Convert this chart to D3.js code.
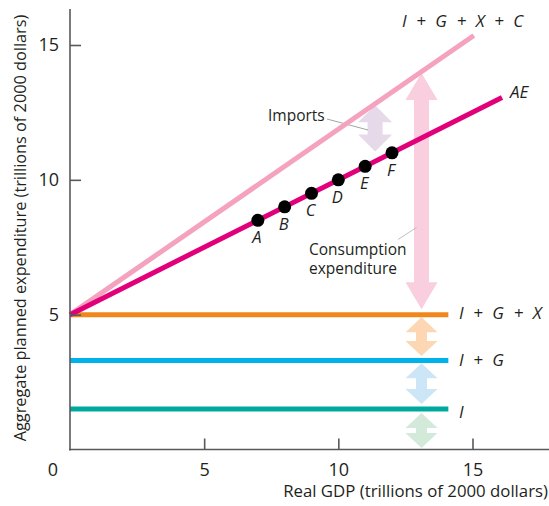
<!DOCTYPE html>
<html><head><meta charset="utf-8">
<script src="https://cdn.jsdelivr.net/npm/d3@7"></script>
<style>body{margin:0;background:#fff}svg{display:block}text{font-family:"Open Sans",sans-serif;fill:#231f20}</style>
</head><body><svg id="c" width="549" height="506"></svg>
<script>
// ---- data ----
const xTicks = [5, 10, 15];
const yTicks = [5, 10, 15];
const flatNames = ["I", "I + G", "I + G + X"];
const flatValues = [1.5, 3.3, 5];
const flatEnd = 14.1;
const aeX = [0, 16.1];
const aeY = [5, 13.05];
const totalX = [0, 15.05];
const totalY = [5, 15.35];
const pointLabels = ["A", "B", "C", "D", "E", "F"];
const pointX = [7, 8, 9, 10, 11, 12];
const pointY = [8.5, 9, 9.5, 10, 10.5, 11];
const arrowNames = ["Consumption", "Imports", "Exports", "Government", "Investment"];
const arrowX = [13.1, 11.37, 13.1, 13.1, 13.1];
const arrowFrom = [5.2, 11.05, 4.9, 3.2, 1.35];
const arrowTo = [13.96, 12.77, 3.47, 1.69, 0.06];

// ---- scales ----
const svg = d3.select("#c");
const x = d3.scaleLinear().domain([0, 15]).range([70, 472.5]);
const y = d3.scaleLinear().domain([0, 15]).range([449.5, 45]);
const axisColor = "#58595b";

// double-headed arrows (behind lines)
const arrowColors = ["#f9cede", "#e6d9ea", "#fdd7b3", "#cde6f7", "#d3eadb"];
function arrowPath(cx, y1, y2, shaftW, headW, headL) {
  const top = Math.min(y1, y2), bot = Math.max(y1, y2);
  const s = shaftW / 2, h = headW / 2;
  const p = d3.path();
  p.moveTo(cx, top);
  p.lineTo(cx + h, top + headL);
  p.lineTo(cx + s, top + headL);
  p.lineTo(cx + s, bot - headL);
  p.lineTo(cx + h, bot - headL);
  p.lineTo(cx, bot);
  p.lineTo(cx - h, bot - headL);
  p.lineTo(cx - s, bot - headL);
  p.lineTo(cx - s, top + headL);
  p.lineTo(cx - h, top + headL);
  p.closePath();
  return p.toString();
}
const gArr = svg.append("g");
arrowNames.forEach((n, i) => {
  const big = i === 0, imp = i === 1;
  gArr.append("path")
    .attr("d", arrowPath(x(arrowX[i]), y(arrowFrom[i]), y(arrowTo[i]),
      big || imp ? 15 : 11, imp ? 34 : 32, big ? 27 : (imp ? 17 : 15)))
    .attr("fill", arrowColors[i]);
});

// leader lines
svg.append("line").attr("x1", 327).attr("y1", 119).attr("x2", 368).attr("y2", 130)
  .attr("stroke", "#8a8a8a").attr("stroke-width", 0.8);
svg.append("line").attr("x1", 398).attr("y1", 239.5).attr("x2", 416.5).attr("y2", 227.5)
  .attr("stroke", "#b0b0b0").attr("stroke-width", 0.8);

// horizontal lines
const flatColors = ["#00a99d", "#00b2ea", "#f0871d"];
flatValues.forEach((v, i) => {
  svg.append("line").attr("x1", x(0)).attr("x2", x(flatEnd))
    .attr("y1", y(v)).attr("y2", y(v))
    .attr("stroke", flatColors[i]).attr("stroke-width", 5);
});

// total line & AE line
const line = d3.line().x(d => x(d[0])).y(d => y(d[1]));
svg.append("path").attr("d", line(totalX.map((v, i) => [v, totalY[i]])))
  .attr("stroke", "#f5a2bf").attr("stroke-width", 5).attr("fill", "none");
svg.append("path").attr("d", line(aeX.map((v, i) => [v, aeY[i]])))
  .attr("stroke", "#e2007a").attr("stroke-width", 5).attr("fill", "none");

// points
pointLabels.forEach((l, i) => {
  svg.append("circle").attr("cx", x(pointX[i])).attr("cy", y(pointY[i])).attr("r", 6.5).attr("fill", "#000");
  svg.append("text").attr("x", x(pointX[i]) - 1).attr("y", y(pointY[i]) + 23)
    .attr("text-anchor", "middle").attr("font-style", "italic").attr("font-size", 16.5).text(l);
});

// axes
const xAxis = d3.axisBottom(x).tickValues(xTicks).tickSizeInner(-11).tickSizeOuter(0).tickPadding(14);
const yAxis = d3.axisLeft(y).tickValues(yTicks).tickSizeInner(-11).tickSizeOuter(0).tickPadding(11);
const gx = svg.append("g").attr("transform", `translate(0,${y(0)})`).call(xAxis);
const gy = svg.append("g").attr("transform", `translate(${x(0)},0)`).call(yAxis);
gx.select(".domain").attr("d", `M${x(0) - 1},0H549`);
gy.select(".domain").attr("d", `M0,9V${y(0) + 1}`);
[gx, gy].forEach(g => {
  g.select(".domain").attr("stroke", axisColor).attr("stroke-width", 1.6);
  g.selectAll(".tick line").attr("stroke", axisColor).attr("stroke-width", 1.6);
  g.selectAll(".tick text").attr("font-size", 18).attr("font-family", "'Open Sans', sans-serif").attr("fill", "#231f20");
});
svg.append("text").attr("x", 53).attr("y", y(0) + 14).attr("dy", "0.71em")
  .attr("text-anchor", "middle").attr("font-size", 18).text("0");

// axis titles
svg.append("text").attr("x", 548).attr("y", 497).attr("text-anchor", "end")
  .attr("font-size", 16.8).text("Real GDP (trillions of 2000 dollars)");
svg.append("text").attr("transform", "translate(26,228) rotate(-90)").attr("text-anchor", "middle")
  .attr("font-size", 16.3).text("Aggregate planned expenditure (trillions of 2000 dollars)");

// series labels
function eqLabel(xp, yp, parts) {
  const t = svg.append("text").attr("x", xp).attr("y", yp).attr("font-size", 17);
  parts.forEach((p, i) => {
    if (i > 0) t.append("tspan").attr("dx", 10).text("+");
    t.append("tspan").attr("dx", i > 0 ? 9 : 0).attr("font-style", "italic").text(p);
  });
}
eqLabel(459, 319, ["I", "G", "X"]);
eqLabel(459, 366, ["I", "G"]);
eqLabel(459, 418, ["I"]);
eqLabel(402, 27, ["I", "G", "X", "C"]);
svg.append("text").attr("x", 510).attr("y", 98).attr("font-size", 17).attr("font-style", "italic").text("AE");

// annotations
svg.append("text").attr("x", 268).attr("y", 121).attr("font-size", 15.5).text("Imports");
const cons = svg.append("text").attr("font-size", 15.5);
cons.append("tspan").attr("x", 309).attr("y", 255).text("Consumption");
cons.append("tspan").attr("x", 309).attr("y", 274).text("expenditure");
</script></body></html>
